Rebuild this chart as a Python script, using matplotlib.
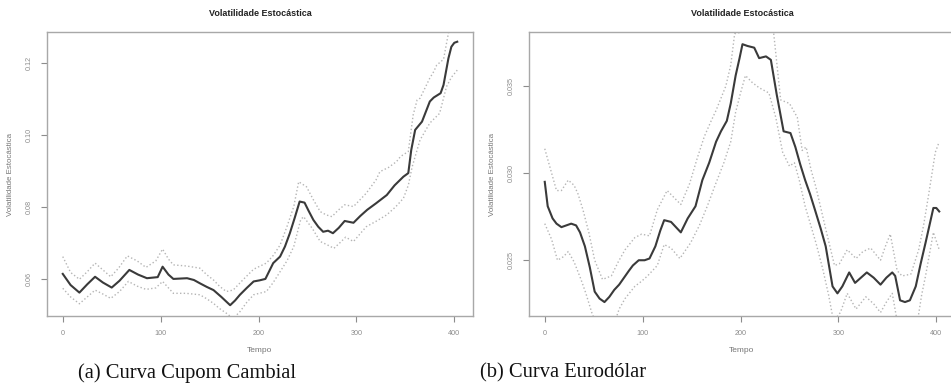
import numpy as np
import matplotlib
matplotlib.use('Agg')
import matplotlib.pyplot as plt

plt.rcParams['font.family'] = 'Liberation Sans'

# --- (a) Curva Cupom Cambial ---
cupom_t = [0, 8, 17, 25, 33, 41, 50, 58, 68, 77, 86, 97, 102, 108, 113, 120, 127, 134, 140, 147, 154,
           162, 171, 176, 181, 188, 195, 201, 207, 215, 222, 227, 232, 237, 242, 247, 251, 256, 261,
           266, 271, 276, 282, 288, 297, 304, 311, 320, 331, 339, 348, 353, 356, 360, 367, 375, 379,
           386, 389, 394, 397, 400, 403]
cupom_vol = [0.0614, 0.0583, 0.0562, 0.0585, 0.0606, 0.0590, 0.0576, 0.0595, 0.0625, 0.0612, 0.0602,
             0.0605, 0.0634, 0.0612, 0.0600, 0.0601, 0.0602, 0.0597, 0.0588, 0.0578, 0.0569,
             0.0550, 0.0527, 0.0540, 0.0556, 0.0575, 0.0593, 0.0596, 0.0600, 0.0644, 0.0662, 0.0690,
             0.0727, 0.0770, 0.0815, 0.0812, 0.0790, 0.0764, 0.0745, 0.0731, 0.0734, 0.0727, 0.0742,
             0.0761, 0.0756, 0.0775, 0.0792, 0.0810, 0.0833, 0.0860, 0.0884, 0.0894, 0.0958, 0.1014,
             0.1037, 0.1093, 0.1104, 0.1116, 0.1139, 0.1213, 0.1245, 0.1256, 0.1259]

cupom_up_t = [0, 8, 17, 25, 33, 41, 49, 57, 66, 76, 85, 95, 102, 108, 113, 126, 140, 147, 154, 160,
              167, 174, 185, 195, 208, 215, 222, 229, 236, 241, 249, 256, 263, 269, 275, 281, 288,
              297, 310, 320, 324, 333, 341, 345, 353, 358, 362, 365, 375, 379, 382, 389, 394, 398, 403]
cupom_up = [0.0662, 0.0618, 0.0599, 0.0620, 0.0644, 0.0625, 0.0606, 0.0630, 0.0664, 0.0650, 0.0632,
            0.0650, 0.0683, 0.0655, 0.0639, 0.0636, 0.0630, 0.0612, 0.0597, 0.0580,
            0.0565, 0.0569, 0.0600, 0.0627, 0.0644, 0.0665, 0.0694, 0.0745, 0.0801, 0.0870, 0.0856,
            0.0820, 0.0787, 0.0778, 0.0773, 0.0790, 0.0806, 0.0801, 0.0838, 0.0875, 0.0898, 0.0910,
            0.0926, 0.0940, 0.0954, 0.1056, 0.1097, 0.1102, 0.1158, 0.1176, 0.1194, 0.1210, 0.1283,
            0.1340, 0.1400]

cupom_lo_t = [0, 8, 17, 25, 33, 41, 49, 58, 67, 76, 85, 95, 102, 108, 113, 126, 140, 147, 154, 160,
              167, 174, 181, 188, 195, 208, 215, 222, 229, 236, 243, 246, 255, 263, 270, 277, 283,
              289, 297, 310, 320, 331, 340, 348, 353, 357, 365, 375, 385, 392, 397, 403]
cupom_lo = [0.0574, 0.0550, 0.0531, 0.0550, 0.0569, 0.0558, 0.0546, 0.0565, 0.0593, 0.0580, 0.0571,
            0.0575, 0.0593, 0.0575, 0.0560, 0.0560, 0.0556, 0.0545, 0.0532, 0.0518,
            0.0505, 0.0490, 0.0509, 0.0535, 0.0556, 0.0565, 0.0590, 0.0620, 0.0650, 0.0690, 0.0764,
            0.0773, 0.0740, 0.0704, 0.0695, 0.0685, 0.0700, 0.0716, 0.0704, 0.0745, 0.0760, 0.0778,
            0.0800, 0.0824, 0.0860, 0.0912, 0.0986, 0.1033, 0.1060, 0.1134, 0.1160, 0.1180]

# --- (b) Curva Eurodólar ---
euro_t = [0, 3, 8, 12, 17, 22, 27, 32, 36, 41, 46, 51, 56, 61, 66, 71, 76, 81, 86, 90, 96, 102, 107,
          113, 118, 122, 129, 134, 139, 146, 154, 161, 168, 175, 180, 186, 190, 195, 199, 202, 207,
          214, 219, 226, 231, 237, 244, 251, 256, 261, 266, 271, 276, 282, 287, 294, 299, 304, 311,
          317, 323, 329, 336, 343, 349, 355, 358, 363, 368, 373, 379, 384, 389, 393, 397, 400, 403]
euro_vol = [0.0295, 0.0281, 0.0274, 0.0271, 0.0269, 0.0270, 0.0271, 0.0270, 0.0266, 0.0258, 0.0246,
            0.0232, 0.0228, 0.0226, 0.0229, 0.0233, 0.0236, 0.0240, 0.0244, 0.0247, 0.0250, 0.0250,
            0.0251, 0.0258, 0.0267, 0.0273, 0.0272, 0.0269, 0.0266, 0.0274, 0.0281, 0.0296, 0.0306,
            0.0318, 0.0324, 0.0330, 0.0340, 0.0356, 0.0366, 0.0374, 0.0373, 0.0372, 0.0366, 0.0367,
            0.0365, 0.0345, 0.0324, 0.0323, 0.0315, 0.0305, 0.0296, 0.0288, 0.0279, 0.0268, 0.0258,
            0.0235, 0.0231, 0.0235, 0.0243, 0.0237, 0.0240, 0.0243, 0.0240, 0.0236, 0.0240, 0.0243,
            0.0241, 0.0227, 0.0226, 0.0227, 0.0235, 0.0248, 0.0260, 0.0270, 0.0280, 0.0280, 0.0278]

euro_up_t = [0, 5, 12, 17, 24, 30, 34, 39, 45, 51, 59, 68, 75, 82, 92, 99, 107, 115, 125, 132, 139,
             148, 156, 163, 170, 175, 185, 190, 194, 233, 241, 250, 258, 263, 267, 272, 277, 282,
             287, 296, 301, 309, 318, 325, 333, 343, 348, 353, 360, 365, 374, 382, 387, 392, 399, 403]
euro_up = [0.0314, 0.0304, 0.0290, 0.0290, 0.0296, 0.0293, 0.0288, 0.0279, 0.0266, 0.0250, 0.0239,
           0.0241, 0.0249, 0.0256, 0.0263, 0.0265, 0.0264, 0.0279, 0.0290, 0.0286, 0.0282,
           0.0294, 0.0309, 0.0321, 0.0330, 0.0336, 0.0350, 0.0362, 0.0380, 0.0385, 0.0342, 0.0340,
           0.0332, 0.0313, 0.0315, 0.0302, 0.0292, 0.0280, 0.0268, 0.0247, 0.0248, 0.0256, 0.0251,
           0.0255, 0.0257, 0.0250, 0.0258, 0.0265, 0.0244, 0.0241, 0.0242, 0.0256, 0.0270, 0.0287,
           0.0312, 0.0318]

euro_lo_t = [0, 7, 13, 19, 24, 30, 37, 42, 48, 55, 62, 70, 76, 82, 92, 99, 105, 115, 122, 129, 138,
             149, 158, 166, 174, 183, 190, 195, 200, 205, 212, 219, 229, 236, 243, 250, 255, 260,
             266, 277, 284, 290, 295, 302, 309, 318, 328, 336, 343, 349, 355, 360, 366, 374, 380,
             385, 389, 397, 403]
euro_lo = [0.0271, 0.0262, 0.0250, 0.0252, 0.0255, 0.0249, 0.0239, 0.0231, 0.0220, 0.0210, 0.0203,
           0.0212, 0.0222, 0.0228, 0.0235, 0.0238, 0.0241, 0.0247, 0.0259, 0.0257, 0.0251,
           0.0260, 0.0270, 0.0281, 0.0293, 0.0306, 0.0318, 0.0335, 0.0346, 0.0356, 0.0352, 0.0349,
           0.0346, 0.0332, 0.0312, 0.0304, 0.0306, 0.0296, 0.0281, 0.0260, 0.0245, 0.0230, 0.0215,
           0.0220, 0.0231, 0.0222, 0.0229, 0.0225, 0.0220, 0.0226, 0.0231, 0.0215, 0.0208, 0.0205,
           0.0212, 0.0230, 0.0241, 0.0266, 0.0256]

x_ticks = [0, 100, 200, 300, 400]
panels = [
    dict(t=cupom_t, v=cupom_vol, ut=cupom_up_t, u=cupom_up, lt=cupom_lo_t, l=cupom_lo,
         yticks=[0.06, 0.08, 0.10, 0.12], ylabels=['0.06', '0.08', '0.10', '0.12'],
         ylim=(0.0497, 0.1286), rect=[47 / 951, 1 - 316 / 390, 426 / 951, 284 / 390],
         caption='(a) Curva Cupom Cambial', cap_x=78 / 951),
    dict(t=euro_t, v=euro_vol, ut=euro_up_t, u=euro_up, lt=euro_lo_t, l=euro_lo,
         yticks=[0.025, 0.030, 0.035], ylabels=['0.025', '0.030', '0.035'],
         ylim=(0.0218, 0.0381), rect=[529 / 951, 1 - 316 / 390, 426 / 951, 284 / 390],
         caption='(b) Curva Eurodólar', cap_x=480 / 951),
]

fig = plt.figure(figsize=(9.51, 3.9), dpi=100)
grey = '#8c8c8c'
for p in panels:
    ax = fig.add_axes(p['rect'])
    ax.plot(p['ut'], p['u'], ':', color='#b5b5b5', lw=1.0)
    ax.plot(p['lt'], p['l'], ':', color='#b5b5b5', lw=1.0)
    ax.plot(p['t'], p['v'], '-', color='#3a3a3a', lw=1.5)
    ax.set_xlim(-16.1, 419.1)
    ax.set_ylim(*p['ylim'])
    ax.set_xticks(x_ticks)
    ax.set_xticklabels([str(x) for x in x_ticks], fontsize=5.2, color=grey)
    ax.set_yticks(p['yticks'])
    ax.set_yticklabels(p['ylabels'], fontsize=5.2, color=grey, rotation=90, va='center')
    ax.tick_params(length=4, width=0.8, color=grey, pad=6)
    for s in ax.spines.values():
        s.set_color('#a8a8a8')
        s.set_linewidth(1.0)
    ax.set_xlabel('Tempo', fontsize=6, color='#777777', labelpad=7)
    ax.set_ylabel('Volatilidade Estocástica', fontsize=5.7, color='#777777', labelpad=9)
    ax.set_title('Volatilidade Estocástica', fontsize=6.5, fontweight='bold', color='#222222', pad=11.5)
    fig.text(p['cap_x'], 1 - 373 / 390, p['caption'], fontsize=14.8, family='Liberation Serif',
             va='center', ha='left', color='#111111')

fig.savefig('out.png', dpi=100)
